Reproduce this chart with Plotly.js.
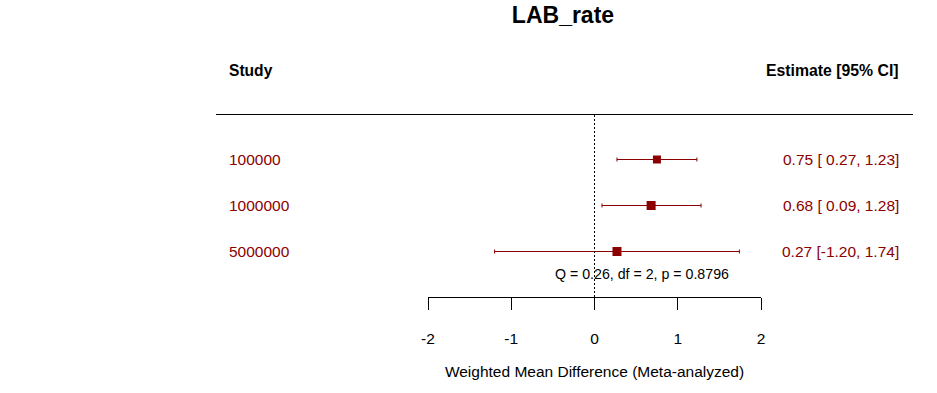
<!DOCTYPE html>
<html>
<head>
<meta charset="utf-8">
<script src="https://cdn.plot.ly/plotly-3.0.1.min.js"></script>
<style>html,body{margin:0;padding:0;background:#fff}#chart{width:937px;height:393px}</style>
</head>
<body>
<div id="chart"></div>
<script>
const studies = ["100000", "1000000", "5000000"];
const estimates = [0.75, 0.68, 0.27];
const ciLower = [0.27, 0.09, -1.20];
const ciUpper = [1.23, 1.28, 1.74];
const markerSizes = [8, 9, 9];
const rows = [1, 2, 3];
const tickVals = [-2, -1, 0, 1, 2];
const tickText = ["-2", "-1", "0", "1", "2"];
const heteroText = "Q = 0.26, df = 2, p = 0.8796";

const W = 937, H = 393;
const RED = "#8B0000";
const FONT = "Liberation Sans, Arial, sans-serif";
const px = v => v / W;          // page x -> paper
const py = v => 1 - v / H;      // page y -> paper
const ROW1 = 159.5, ROWH = 46;  // row layout in page pixels

const fmt = v => (v < 0 ? "" : " ") + v.toFixed(2);
const estLabels = estimates.map((e, i) =>
  e.toFixed(2) + " [" + fmt(ciLower[i]) + ", " + ciUpper[i].toFixed(2) + "]");

const trace = {
  type: "scatter", mode: "markers",
  x: estimates, y: rows,
  marker: {symbol: "square", size: markerSizes, color: RED, opacity: 1, line: {width: 0}},
  error_x: {
    type: "data", symmetric: false,
    array: estimates.map((e, i) => ciUpper[i] - e),
    arrayminus: estimates.map((e, i) => e - ciLower[i]),
    color: RED, thickness: 1, width: 2
  },
  hoverinfo: "skip", showlegend: false, cliponaxis: false
};

const annotations = [];
rows.forEach((r, i) => {
  annotations.push({xref: "paper", yref: "y", x: px(227), y: r, xanchor: "left", yanchor: "middle",
    text: studies[i], showarrow: false, font: {family: FONT, size: 15.5, color: RED}});
  annotations.push({xref: "paper", yref: "y", x: px(901), y: r, xanchor: "right", yanchor: "middle",
    text: estLabels[i], showarrow: false, font: {family: FONT, size: 15.5, color: RED}});
});
annotations.push({xref: "paper", yref: "paper", x: px(227), y: py(70), xanchor: "left", yanchor: "middle",
  text: "<b>Study</b>", showarrow: false, font: {family: FONT, size: 15.6, color: "#000"}});
annotations.push({xref: "paper", yref: "paper", x: px(901), y: py(70), xanchor: "right", yanchor: "middle",
  text: "<b>Estimate [95% CI]</b>", showarrow: false, font: {family: FONT, size: 15.8, color: "#000"}});
annotations.push({xref: "paper", yref: "paper", x: px(641.5), y: py(274), xanchor: "center", yanchor: "middle",
  text: heteroText, showarrow: false, font: {family: FONT, size: 14.2, color: "#000"}});

const layout = {
  width: W, height: H,
  margin: {l: 0, r: 0, t: 0, b: 0, pad: 0},
  paper_bgcolor: "#fff", plot_bgcolor: "rgba(0,0,0,0)",
  font: {family: FONT, color: "#000"},
  title: {text: "<b>LAB_rate</b>", x: px(563), xanchor: "center", xref: "container",
    y: py(14.5), yanchor: "middle", yref: "container",
    font: {family: FONT, size: 23, color: "#000"}},
  xaxis: {
    domain: [px(428), px(761)], range: [-2, 2],
    anchor: "free", position: py(297),
    showgrid: false, zeroline: false,
    showline: true, linecolor: "#000", linewidth: 1,
    ticks: "outside", ticklen: 12, tickwidth: 1, tickcolor: "#000",
    tickvals: tickVals, ticktext: tickText,
    ticklabelstandoff: 15,
    tickfont: {family: FONT, size: 15.5, color: "#000"},
    title: {text: "Weighted Mean Difference (Meta-analyzed)", standoff: 20,
      font: {family: FONT, size: 15.5, color: "#000"}},
    fixedrange: true
  },
  yaxis: {
    domain: [0, 1], range: [1 + (H - ROW1) / ROWH, 1 - ROW1 / ROWH],
    visible: false, showgrid: false, zeroline: false, fixedrange: true
  },
  shapes: [
    {type: "line", xref: "paper", yref: "paper", x0: px(216), x1: px(913), y0: py(114.5), y1: py(114.5),
      line: {color: "#000", width: 1}},
    {type: "line", xref: "x", yref: "paper", x0: 0, x1: 0, y0: py(115), y1: py(297),
      line: {color: "#000", width: 1, dash: "2px,2px"}}
  ],
  annotations: annotations
};

Plotly.newPlot("chart", [trace], layout, {displayModeBar: false, staticPlot: true});
</script>
</body>
</html>
